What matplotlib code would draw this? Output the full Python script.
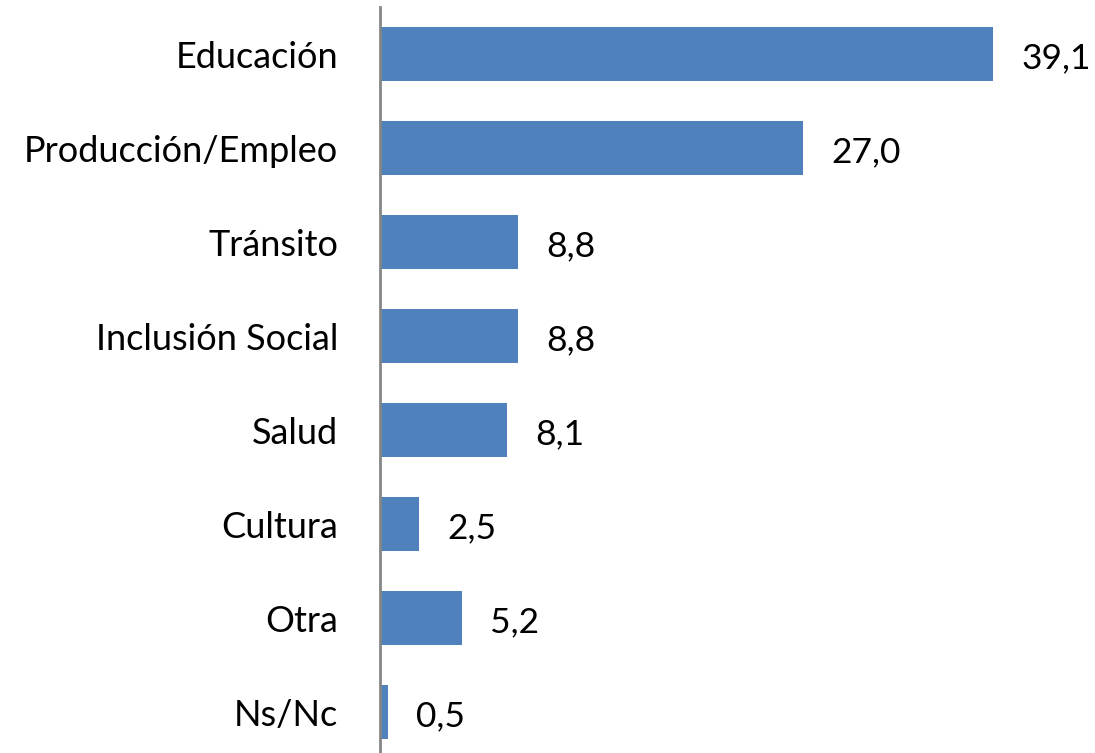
import matplotlib
matplotlib.use("Agg")
import matplotlib.pyplot as plt

# Data
categories = ["Educación", "Producción/Empleo", "Tránsito", "Inclusión Social",
              "Salud", "Cultura", "Otra", "Ns/Nc"]
values = [39.1, 27.0, 8.8, 8.8, 8.1, 2.5, 5.2, 0.5]
value_labels = ["39,1", "27,0", "8,8", "8,8", "8,1", "2,5", "5,2", "0,5"]

plt.rcParams["font.family"] = ["Lato", "DejaVu Sans"]

fig = plt.figure(figsize=(10.95, 7.53), dpi=100)
ax = fig.add_axes([380 / 1095, -6 / 753, 715 / 1095, 752 / 753])

pos = list(range(len(categories)))
ax.barh(pos, values, height=0.58, color="#4F81BD")
ax.set_ylim(len(categories) - 0.5, -0.5)
ax.set_xlim(0, 715 / 15.68)

# Value labels right of each bar
for p, v, lab in zip(pos, values, value_labels):
    ax.annotate(lab, (v, p), xytext=(28, -4), textcoords="offset pixels",
                ha="left", va="center", fontsize=25.5, color="black")

ax.set_yticks(pos)
ax.set_yticklabels(categories, fontsize=26)
ax.tick_params(axis="y", length=0, pad=30)
ax.set_xticks([])

for s in ["top", "right", "bottom"]:
    ax.spines[s].set_visible(False)
ax.spines["left"].set_color("#868686")
ax.spines["left"].set_linewidth(2)

fig.savefig("out.png", dpi=100)
